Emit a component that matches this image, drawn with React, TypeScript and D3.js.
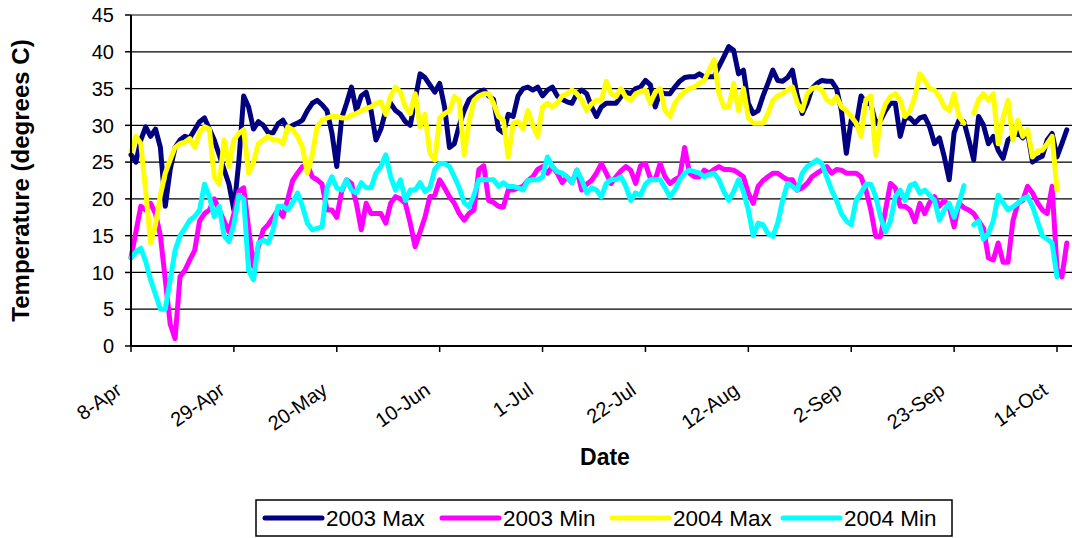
import React from 'react';
import * as d3 from 'd3';

const START_UTC = Date.UTC(2003, 3, 8);
const DAY_MS = 86400000;
const LAST_TICK_UTC = Date.UTC(2003, 9, 14);

const tickLabels = ['8-Apr', '29-Apr', '20-May', '10-Jun', '1-Jul', '22-Jul', '12-Aug', '2-Sep', '23-Sep', '14-Oct'];
const tickStepDays = 21;
const yTicks = [0, 5, 10, 15, 20, 25, 30, 35, 40, 45];

const max2003: (number | null)[] = [
  26, 25, 28, 29.8, 28.5, 29.5, 27, 19, 24, 27,
  28, 28.5, 28.3, 29.4, 30.5, 31, 29.5, 28, 26, 24,
  22, 18.5, 25, 34, 32.5, 29.5, 30.5, 30, 29, 29,
  30.2, 30.7, 29.5, 30, 30.3, 30.7, 32, 33, 33.4, 32.8,
  32, 29, 24.4, 31, 33, 35.2, 32, 34, 34.5, 32,
  28, 29.5, 32, 33, 32, 31.5, 30.5, 30, 33.5, 37,
  36.5, 35.5, 34.5, 35.7, 32.5, 27, 27.5, 30, 32, 33.5,
  34, 34.5, 34.8, 34, 33.5, 29.5, 29, 31.5, 31.2, 34,
  35, 35.2, 34.8, 35.2, 34, 34.8, 35.2, 34, 33.5, 33.2,
  33, 34.3, 34.8, 34.3, 32.5, 31.2, 32.5, 33, 33, 33,
  33.9, 34.5, 34.3, 35, 35.2, 36.1, 35.5, 32.5, 34.5, 34.3,
  34.3, 35.2, 36, 36.5, 36.6, 36.6, 37, 36.6, 36.6, 36.6,
  38, 39.3, 40.7, 40.2, 37, 37.5, 33, 31.6, 32, 34,
  35.7, 37.5, 36.1, 36, 36.5, 37.5, 34, 31.6, 33, 35,
  35.7, 36.1, 36, 36, 35, 32, 26.2, 30.7, 30, 34,
  33, 32.9, 30.3, 30.7, 32, 33, 33, 28.5, 31, 31,
  30.3, 31, 31.2, 29.8, 27.5, 28.3, 25.7, 22.6, 29, 30.7,
  30.5, 28, 25.3, 31.2, 30, 27.5, 28.5, 26.6, 25.5, 28,
  28.5, 29, 28.3, 29, 25, 25.5, 25.8, 28, 28.9, 25.7,
  27.5, 29.4,
];

const min2003: (number | null)[] = [
  12, 15.5, 19, 18.5, 19.4, 18, 15, 9, 3, 1,
  9.4, 10.3, 11.7, 13, 17, 18, 18.5, 20, 18.5, 17,
  15.5, 18, 21, 21.5, 16, 10.8, 13.5, 15.8, 16.5, 17.5,
  18.5, 17.6, 20, 22.5, 23.5, 24.4, 24.6, 23, 22.6, 22,
  18.5, 18.5, 17.5, 21, 22.6, 22.1, 19.4, 15.8, 19.4, 18,
  18, 18, 16.7, 19.4, 20.3, 20, 19.4, 16.7, 13.5, 15.5,
  17.5, 20.3, 20.5, 22.6, 21.5, 20.3, 19.4, 18, 17.1, 18,
  18.5, 24, 24.5, 19.8, 19.5, 19, 18.9, 21.2, 21.2, 21.5,
  21.7, 22.5, 23, 24, 24.4, 23.5, 24.4, 23.5, 22.2, 23,
  22.2, 23.9, 21.2, 22, 22.5, 23.5, 24.8, 23.5, 22.1, 23,
  23.8, 24.4, 23.9, 22.1, 24.5, 24.8, 22.8, 22.6, 24.8, 23,
  22.1, 22.6, 23, 27, 23.5, 23, 23, 23.9, 23.5, 24,
  24.4, 24, 24, 23.9, 23.5, 23, 20.8, 19.4, 21.7, 22.5,
  23, 23.5, 23.5, 23, 22.6, 22.6, 21.2, 21.5, 22.1, 23,
  23.5, 23.9, 24.4, 23.5, 24, 23.9, 23.5, 23.5, 23.5, 23,
  21.2, 18.5, 14.9, 14.9, 18.5, 22.1, 21.5, 19, 19, 18.5,
  16.9, 19.4, 18, 19.5, 20.3, 19, 19.8, 18.9, 16.2, 19.4,
  18.8, 18.5, 18, 17, 16, 12, 11.7, 14, 11.4, 11.4,
  17, 19.4, 19.8, 21.7, 20.8, 19.5, 18.5, 18, 21.7, 10.5,
  9.4, 14,
];

const max2004: (number | null)[] = [
  26.5, 28.5, 27.5, 21, 14, 16.5, 20.5, 23.5, 25.3, 27,
  27.5, 27.7, 28.2, 27, 29, 29.8, 29.5, 23, 22, 28,
  24.4, 28, 28.9, 29.4, 23.5, 25, 27.5, 28, 28.5, 28,
  28, 27.5, 29.8, 29.4, 28.5, 27, 23.5, 26, 29.8, 30.7,
  31, 31.2, 31.2, 31, 31, 31.4, 31.6, 32, 32.3, 32.5,
  33, 33.2, 31.5, 34, 35.2, 34.5, 32.5, 31.6, 34.3, 29.8,
  31.5, 26.2, 25.3, 31, 31.6, 32, 33.9, 33.4, 26, 30.5,
  33.4, 34, 34.3, 34.3, 33, 31.2, 30.7, 25.7, 30.3, 30.5,
  29.5, 32, 30, 28.5, 32.5, 33, 32.5, 33, 34, 34.3,
  34.8, 34.3, 33.4, 32, 32.9, 33.4, 33.4, 36, 34.3, 33.9,
  35, 33.8, 33.4, 34.3, 34.6, 34.8, 33, 34.5, 35, 32,
  31.2, 33, 33.9, 34.6, 35, 35.2, 35.7, 36.1, 37.5, 38.9,
  34.3, 32.5, 32.5, 35.7, 32, 35, 31, 30.3, 30.3, 30.3,
  31.6, 33.4, 34, 34.3, 34.8, 35.2, 33, 32, 34.3, 35,
  35.2, 34.8, 33.5, 33, 33.9, 32.5, 32, 31.2, 30.3, 28.5,
  33.5, 34, 26, 31, 32.9, 33.9, 34.3, 33.4, 31.2, 32,
  33.9, 37, 36.1, 35, 34.8, 33.9, 32.5, 32, 34.3, 31.2,
  30.3, null, 31.6, 33.5, 34.3, 33.4, 34.3, 27.5, 31, 33.4,
  28, 30.7, 28.5, 29.4, 25.7, 26.5, 26.6, 27.5, 28.5, 21.2,
];

const min2004: (number | null)[] = [
  12, 12.8, 13.3, 11.5, 9, 7, 5, 5, 9, 13,
  15, 16, 17.1, 17.6, 18.5, 22, 20.3, 17.6, 19, 15,
  14.2, 16.5, 20.5, 20, 10.3, 9, 14, 14.4, 14, 15.8,
  19, 19, 18.5, 19.5, 20.8, 19, 16.7, 15.8, 16, 16.2,
  21.5, 23, 21.5, 21.2, 22.6, 21.2, 20.8, 22.2, 21.5, 21.5,
  23.5, 24.4, 26, 23, 21.2, 22.6, 19.8, 21.2, 21.2, 22.2,
  21, 21.5, 24, 24.8, 24.8, 24.4, 23, 21.5, 19.5, 18.9,
  20.5, 22.6, 22.6, 22.6, 22.6, 21.7, 22.2, 21.7, 21.7, 21.5,
  21.2, 22.5, 22.6, 22.6, 23, 25.7, 24.4, 23.7, 23.5, 23,
  22.2, 23.9, 22.6, 20.8, 21.5, 21.2, 20.3, 22.1, 22.6, 22.6,
  23, 21.7, 19.8, 20.8, 20.5, 22, 22.6, 22.6, 22.6, 21.5,
  20.3, 21.2, 22.6, 23.5, 23.9, 23.7, 23.5, 23, 23.3, 23.5,
  22.6, 21, 19.8, 21, 22.6, 21, 18.5, 15, 16.7, 16.5,
  15.3, 14.9, 16.7, 19.8, 22.1, 21.7, 21.2, 23.5, 24.4, 24.8,
  25.3, 24.8, 23, 21.2, 19.8, 18, 17, 16.5, 19.8, 20.8,
  22, 22, 20.3, 17.5, 15.5, 17, 20.3, 21.2, 19.8, 21.8,
  22.1, 20.8, 21.2, 20.5, 19.8, 17.1, 18.5, 19.4, 17.5, 19.4,
  21.8, null, 16.5, 17, 14.5, 15.3, 17, 20.5, 19.5, 18.5,
  18.9, 19.4, 20, 20.3, 19, 17, 15, 14.5, 14, 9.4,
];

const seriesNames = ['2003 Max', '2003 Min', '2004 Max', '2004 Min'];
const seriesColors = ['#000080', '#FF00FF', '#FFFF00', '#00FFFF'];
const seriesValues = [max2003, min2003, max2004, min2004];

const W = 1072;
const H = 538;
const FONT = "'Liberation Sans', Arial, sans-serif";

export default function App() {
  const plotLeft = 131;
  const plotRight = 1072;
  const plotTop = 15;
  const plotBottom = 346;

  const x = d3.scaleUtc()
    .domain([new Date(START_UTC), new Date(LAST_TICK_UTC)])
    .range([plotLeft, 1057]);
  const y = d3.scaleLinear().domain([0, 45]).range([plotBottom, plotTop]);

  const dateOf = (i: number) => new Date(START_UTC + i * DAY_MS);
  const tickDates = tickLabels.map((_, k) => dateOf(k * tickStepDays));

  const line = d3.line<number | null>()
    .defined((v) => v != null)
    .x((_, i) => x(dateOf(i)))
    .y((v) => y(v as number));

  const legendItems = [265, 442, 612, 783];

  return (
    <svg width={W} height={H} style={{ position: 'absolute', left: 0, top: 0, background: '#fff' }} fontFamily={FONT}>
      <rect x={0} y={0} width={W} height={H} fill="#fff" />
      <defs>
        <clipPath id="plotclip">
          <rect x={plotLeft - 5} y={0} width={plotRight - plotLeft + 5} height={plotBottom + 6} />
        </clipPath>
      </defs>

      {yTicks.filter((t) => t > 0 && t < 45).map((t) => (
        <line key={'g' + t} x1={plotLeft} x2={plotRight} y1={y(t)} y2={y(t)} stroke="#000" strokeWidth={1.2} />
      ))}
      <line x1={plotLeft} x2={plotRight} y1={y(45)} y2={y(45)} stroke="#808080" strokeWidth={2} />

      <g clipPath="url(#plotclip)">
        {seriesValues.map((vals, si) => (
          <path
            key={seriesNames[si]}
            d={line(vals) || ''}
            fill="none"
            stroke={seriesColors[si]}
            strokeWidth={5}
            strokeLinejoin="round"
            strokeLinecap="round"
          />
        ))}
      </g>

      <line x1={plotLeft} x2={plotLeft} y1={plotTop} y2={plotBottom} stroke="#000" strokeWidth={2} />
      <line x1={plotLeft} x2={plotRight} y1={plotBottom} y2={plotBottom} stroke="#000" strokeWidth={2} />

      {yTicks.map((t) => (
        <g key={'yt' + t}>
          <line x1={plotLeft - 6} x2={plotLeft} y1={y(t)} y2={y(t)} stroke="#000" strokeWidth={1.5} />
          <text x={114} y={y(t)} dy="0.36em" textAnchor="end" fontSize={20} fill="#000">{t}</text>
        </g>
      ))}

      {tickDates.map((d, k) => {
        const tx = x(d);
        return (
          <g key={'xt' + k}>
            <line x1={tx} x2={tx} y1={plotBottom} y2={plotBottom + 6} stroke="#000" strokeWidth={1.5} />
            <text
              transform={`translate(${tx - 8},${plotBottom + 47}) rotate(-35)`}
              textAnchor="end"
              fontSize={20}
              fill="#000"
            >
              {tickLabels[k]}
            </text>
          </g>
        );
      })}

      <text x={605} y={465} textAnchor="middle" fontSize={23} fontWeight="bold" fill="#000">Date</text>
      <text
        transform={`translate(29,${(plotTop + plotBottom) / 2}) rotate(-90)`}
        textAnchor="middle"
        fontSize={24}
        fontWeight="bold"
        fill="#000"
      >
        Temperature (degrees C)
      </text>

      <rect x={256} y={500} width={696} height={36} fill="#fff" stroke="#000" strokeWidth={1.5} />
      {seriesNames.map((name, si) => (
        <g key={'lg' + si}>
          <line
            x1={legendItems[si]}
            x2={legendItems[si] + 57}
            y1={518}
            y2={518}
            stroke={seriesColors[si]}
            strokeWidth={5}
            strokeLinecap="round"
          />
          <text x={legendItems[si] + 61} y={526} fontSize={22.5} fill="#000">{name}</text>
        </g>
      ))}
    </svg>
  );
}
